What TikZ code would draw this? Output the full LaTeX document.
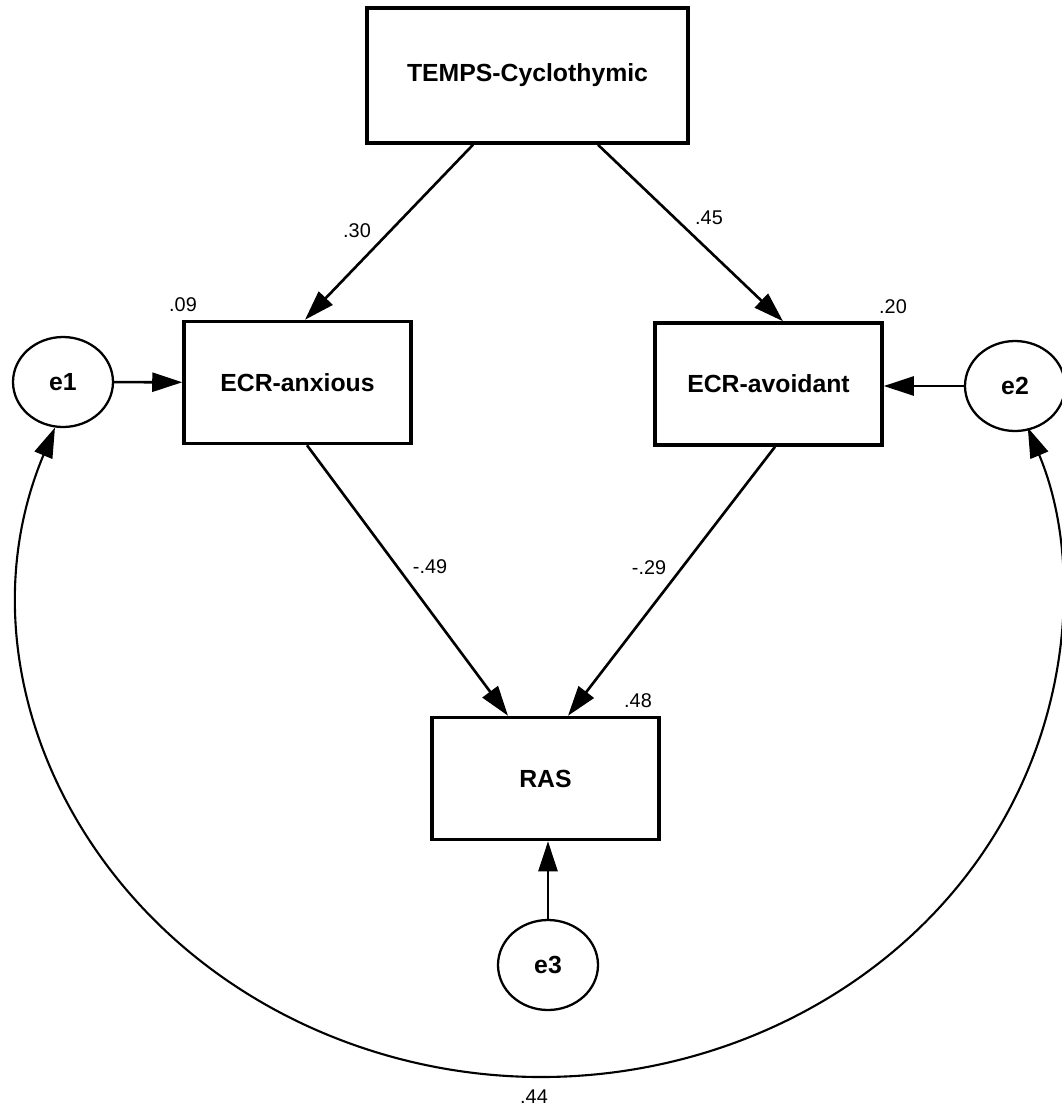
\documentclass[tikz,border=0pt]{standalone}
\usepackage{fontspec}
\setmainfont{Liberation Sans}
\usetikzlibrary{arrows.meta,positioning,shapes.geometric}

\begin{document}
\begin{tikzpicture}[x=0.2mm, y=-0.2mm,
    var/.style={rectangle, draw, line width=2pt, minimum width=45.4mm, minimum height=24.4mm, inner sep=0pt, font=\fontsize{14.1}{17}\selectfont\bfseries},
    err/.style={ellipse, draw, line width=1.3pt, minimum width=20mm, minimum height=18mm, inner sep=0pt, font=\fontsize{14.1}{17}\selectfont\bfseries},
    coef/.style={font=\fontsize{11.3}{13}\selectfont, inner sep=0pt},
    arr/.style={-{Triangle[length=6mm, width=3.8mm]}, line width=1.5pt},
    cov/.style={{Triangle[length=6mm, width=3.8mm]}-{Triangle[length=6mm, width=3.8mm]}, line width=1.2pt}
]
\useasboundingbox (0,0) rectangle (1062,1108);

% Observed variables
\node[var, minimum width=64.2mm, minimum height=27mm] (temps) at (527.5,75.5) {TEMPS-Cyclothymic};
\node[var] (anx) at (297.5,382.5) {ECR-anxious};
\node[var] (avo) at (768.5,384) {ECR-avoidant};
\node[var] (ras) at (545.5,778.5) {RAS};

% Error terms
\node[err] (e1) at (63,382) {e1};
\node[err] (e2) at (1015,386) {e2};
\node[err] (e3) at (548,965) {e3};

% -- Paths --
\draw[arr] ([xshift=-10.9mm]temps.south) -- ([xshift=1.5mm]anx.north);
\draw[arr] ([xshift=14.1mm]temps.south) -- ([xshift=2.9mm]avo.north);
\draw[arr] ([xshift=1.9mm]anx.south) -- ([xshift=-7.5mm]ras.north);
\draw[arr] ([xshift=1.3mm]avo.south) -- ([xshift=4.5mm]ras.north);
\draw[arr] (e1) -- (anx);
\draw[arr] (e2.west) -- (avo.east |- e2.west);
\draw[arr] (e3.north) -- (e3.north |- ras.south);

% covariance e1 <-> e2
\draw[cov] (e1.-100) arc[start angle=159, end angle=381, x radius=104.2mm, y radius=95.6mm];

% -- Coefficients --
\node[coef] (c30) at (357,231) {.30};
\node[coef] (c45) at (709,218) {.45};
\node[coef] (c09) at (183,305) {.09};
\node[coef] (c20) at (893,307) {.20};
\node[coef] (c49) at (430,567) {-.49};
\node[coef] (c29) at (649,568) {-.29};
\node[coef] (c48) at (638,701) {.48};
\node[coef] (c44) at (534,1097) {.44};

\end{tikzpicture}
\end{document}
